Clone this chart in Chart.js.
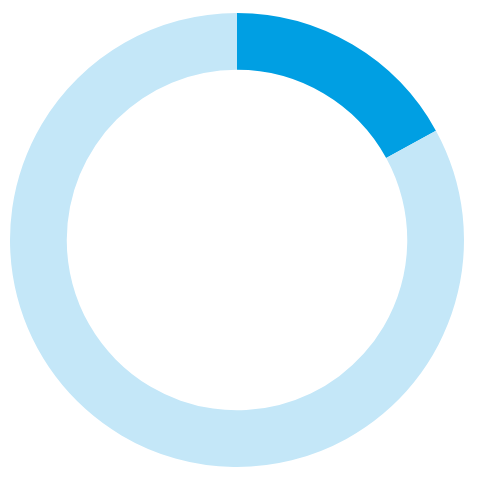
<!DOCTYPE html>
<html>
<head>
<meta charset="utf-8">
<script src="https://cdn.jsdelivr.net/npm/chart.js@4"></script>
<style>
  html, body { margin: 0; padding: 0; background: #fff; }
</style>
</head>
<body>
<canvas id="ringChart" width="477" height="477"></canvas>
<script>
const labels = ['Share', 'Rest'];
const values = [17, 83];
const colors = ['#009fe3', '#c4e7f8'];

const ctx = document.getElementById('ringChart').getContext('2d');
new Chart(ctx, {
    type: 'doughnut',
    data: {
        labels: labels,
        datasets: [{
            data: values,
            backgroundColor: colors,
            borderWidth: 0
        }]
    },
    options: {
        responsive: false,
        animation: false,
        cutout: '75%',
        layout: { padding: { top: 13, bottom: 10, left: 10, right: 13 } },
        plugins: {
            legend: { display: false },
            tooltip: { enabled: false }
        }
    }
});
</script>
</body>
</html>
